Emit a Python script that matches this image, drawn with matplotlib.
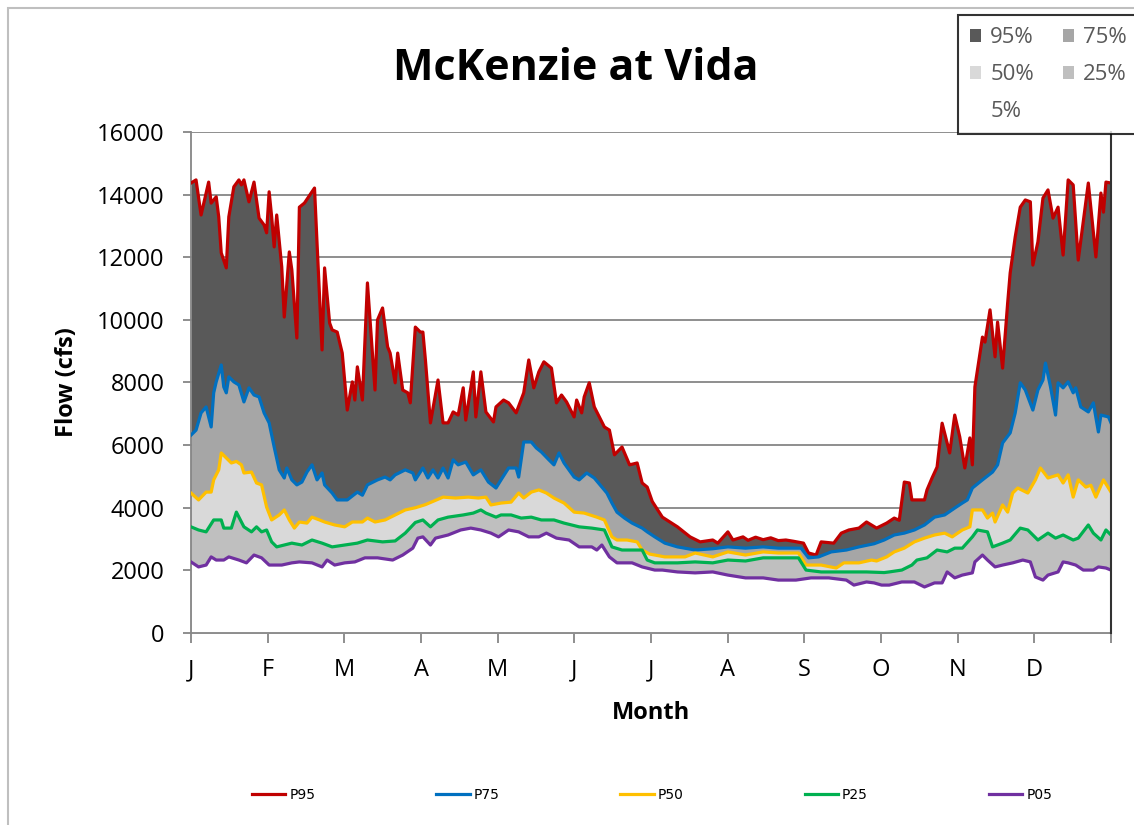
import numpy as np
import matplotlib.pyplot as plt
from matplotlib.patches import Patch, Rectangle
from matplotlib.lines import Line2D

plt.rcParams['font.family'] = ['Open Sans', 'DejaVu Sans']

# day of year (0 = 1 Jan) and flow in cfs
months = ["J", "F", "M", "A", "M", "J", "J", "A", "S", "O", "N", "D"]

p95_day = [0, 2, 4, 7, 8, 10, 11, 12, 14, 15, 17, 19, 20, 21, 23, 25, 27, 29, 30, 31,
           32, 33, 34, 36, 37, 39, 40, 42, 43, 45, 49, 50, 52, 53, 55, 56, 58, 60, 62, 64,
           65, 66, 68, 70, 73, 74, 76, 78, 79, 81, 82, 84, 86, 87, 89, 91, 92, 93, 95, 98,
           100, 102, 104, 106, 108, 109, 112, 113, 115, 117, 120, 121, 124, 126, 129, 132, 134, 136, 138, 140,
           143, 145, 147, 149, 152, 153, 155, 156, 158, 160, 164, 166, 168, 171, 174, 177, 179, 181, 183, 187,
           193, 198, 202, 207, 209, 213, 215, 219, 221, 224, 227, 230, 233, 236, 239, 243, 245, 248, 250, 255,
           258, 261, 265, 268, 272, 276, 279, 281, 283, 285, 286, 289, 291, 292, 294, 296, 298, 301, 303, 305,
           307, 309, 310, 311, 314, 315, 317, 319, 320, 322, 324, 325, 327, 329, 331, 333, 334, 336, 338, 340,
           342, 344, 346, 348, 350, 352, 356, 359, 361, 362, 363, 365]
p95 = [14370, 14470, 13350, 14400, 13730, 13930, 13290, 12140, 11660, 13290, 14250, 14470, 14310, 14470, 13770, 14400, 13250, 13030, 12780, 14090,
       13290, 12330, 13350, 11690, 10090, 12170, 11600, 9420, 13600, 13730, 14210, 12460, 9040, 11660, 9900, 9680, 9610, 8940, 7120, 8020,
       7440, 8500, 7440, 11180, 7760, 10000, 10380, 9140, 8940, 7990, 8940, 7760, 7670, 7350, 9770, 9610, 9610, 8720, 6710, 8080,
       6710, 6710, 7060, 6960, 7830, 6800, 8340, 6900, 8340, 7060, 6740, 7220, 7440, 7350, 7030, 7670, 8720, 7830, 8340, 8660,
       8460, 7350, 7600, 7380, 6900, 7440, 7030, 7540, 7990, 7220, 6580, 6480, 5690, 5940, 5370, 5430, 4790, 4660, 4200, 3700,
       3390, 3070, 2910, 2970, 2870, 3230, 2970, 3070, 2960, 3060, 2980, 3040, 2950, 2970, 2930, 2870, 2555, 2490, 2910, 2870,
       3190, 3290, 3350, 3545, 3350, 3510, 3670, 3600, 4820, 4790, 4250, 4250, 4250, 4570, 4950, 5300, 6700, 5750, 6960, 6260,
       5270, 6230, 5370, 7860, 9450, 9290, 10320, 8820, 9930, 8460, 10540, 11500, 12650, 13600, 13830, 13770, 11750, 12490, 13890, 14150,
       13250, 13600, 12070, 14470, 14310, 11910, 14370, 12010, 14050, 13440, 14400, 14370]

p75_day = [0, 2, 4, 6, 8, 9, 10, 12, 13, 14, 15, 17, 19, 21, 23, 25, 27, 29, 31, 33,
           35, 37, 38, 40, 42, 44, 46, 48, 50, 52, 53, 56, 58, 62, 66, 68, 70, 74, 77, 79,
           81, 85, 88, 89, 92, 94, 96, 98, 100, 102, 104, 106, 109, 112, 115, 118, 121, 123, 126, 129,
           130, 132, 135, 137, 139, 142, 144, 146, 148, 152, 154, 157, 160, 163, 165, 167, 169, 172, 175, 179,
           181, 184, 188, 193, 200, 207, 213, 220, 227, 233, 242, 245, 249, 254, 260, 265, 271, 275, 279, 283,
           287, 291, 295, 299, 303, 306, 308, 310, 314, 318, 320, 322, 325, 327, 329, 331, 334, 336, 338, 339,
           341, 343, 344, 346, 348, 350, 351, 353, 356, 358, 360, 361, 364, 365]
p75 = [6320, 6480, 7030, 7220, 6580, 7670, 8020, 8560, 7860, 7670, 8180, 8020, 7920, 7380, 7830, 7600, 7540, 7030, 6710, 5940,
       5210, 4950, 5270, 4890, 4730, 4820, 5140, 5370, 4890, 5110, 4730, 4470, 4250, 4250, 4500, 4400, 4730, 4890, 4980, 4890,
       5050, 5210, 5110, 4890, 5270, 4950, 5210, 4950, 5270, 4950, 5530, 5370, 5460, 5050, 5210, 4820, 4630, 4890, 5270, 5270,
       4980, 6100, 6100, 5910, 5780, 5530, 5370, 5750, 5430, 4980, 4890, 5110, 4950, 4660, 4470, 4150, 3860, 3670, 3510, 3350,
       3230, 3070, 2870, 2750, 2650, 2690, 2750, 2710, 2750, 2710, 2710, 2400, 2430, 2590, 2650, 2750, 2850, 2970, 3130, 3190,
       3290, 3450, 3700, 3770, 3990, 4150, 4250, 4630, 4890, 5140, 5370, 6070, 6390, 7030, 7990, 7760, 7120, 7760, 8080, 8620,
       7860, 6960, 7990, 7830, 8020, 7670, 7830, 7220, 7060, 7350, 6420, 6960, 6900, 6710]

p50_day = [0, 3, 6, 8, 9, 11, 12, 14, 16, 18, 20, 21, 24, 26, 28, 30, 32, 35, 37, 39,
           41, 43, 46, 48, 51, 53, 57, 61, 64, 68, 70, 73, 77, 81, 85, 89, 93, 100, 105, 110,
           114, 117, 119, 123, 127, 130, 132, 135, 138, 141, 144, 148, 152, 156, 161, 164, 167, 169, 173, 177,
           179, 182, 188, 196, 200, 207, 213, 220, 227, 233, 241, 244, 250, 256, 259, 265, 270, 272, 276, 279,
           283, 287, 291, 295, 299, 302, 306, 309, 310, 314, 316, 318, 319, 322, 324, 326, 328, 332, 335, 337,
           340, 342, 344, 346, 348, 350, 352, 355, 357, 359, 362, 364, 365]
p50 = [4470, 4250, 4500, 4500, 4890, 5210, 5750, 5590, 5430, 5480, 5370, 5110, 5140, 4790, 4730, 4020, 3610, 3770, 3930, 3610,
       3350, 3545, 3510, 3700, 3610, 3545, 3450, 3390, 3545, 3545, 3670, 3545, 3610, 3770, 3930, 4000, 4100, 4340, 4310, 4340,
       4310, 4340, 4090, 4150, 4180, 4470, 4310, 4500, 4570, 4470, 4310, 4150, 3860, 3830, 3700, 3610, 3070, 2970, 2970, 2910,
       2650, 2520, 2430, 2430, 2555, 2430, 2590, 2490, 2590, 2555, 2555, 2170, 2170, 2075, 2240, 2240, 2330, 2300, 2430, 2590,
       2710, 2910, 3030, 3130, 3190, 3070, 3290, 3390, 3930, 3930, 3670, 3830, 3545, 4090, 3860, 4470, 4630, 4470, 4890, 5270,
       4950, 5000, 5050, 4790, 5050, 4340, 4890, 4660, 4720, 4340, 4890, 4630, 4500]

p25_day = [0, 3, 6, 9, 12, 13, 16, 18, 20, 21, 24, 26, 28, 30, 32, 34, 37, 40, 44, 48,
           52, 56, 61, 66, 70, 76, 81, 85, 89, 92, 95, 98, 102, 108, 112, 115, 117, 121, 123, 127,
           131, 135, 139, 144, 148, 154, 159, 164, 167, 171, 176, 179, 181, 184, 193, 200, 207, 213, 220, 227,
           233, 241, 244, 250, 259, 268, 275, 277, 282, 286, 288, 292, 296, 300, 303, 306, 310, 312, 316, 318,
           322, 325, 329, 332, 336, 340, 343, 346, 350, 352, 356, 358, 361, 363, 365]
p25 = [3390, 3290, 3230, 3610, 3610, 3350, 3350, 3860, 3545, 3390, 3230, 3390, 3230, 3290, 2910, 2750, 2810, 2870, 2810, 2970,
       2870, 2750, 2810, 2870, 2970, 2910, 2940, 3190, 3530, 3610, 3390, 3610, 3700, 3770, 3830, 3930, 3830, 3700, 3770, 3770,
       3670, 3700, 3610, 3610, 3510, 3390, 3350, 3290, 2750, 2650, 2650, 2650, 2330, 2240, 2240, 2270, 2240, 2330, 2300, 2400,
       2400, 2400, 2010, 1950, 1950, 1950, 1930, 1950, 2010, 2170, 2330, 2400, 2650, 2590, 2710, 2710, 3070, 3290, 3230, 2750,
       2870, 2970, 3350, 3290, 2970, 3190, 3030, 3130, 2970, 3030, 3450, 3190, 2970, 3290, 3130]

p05_day = [0, 3, 6, 8, 10, 13, 15, 19, 22, 25, 28, 31, 36, 40, 43, 48, 52, 54, 57, 61,
           65, 69, 74, 80, 84, 88, 90, 92, 95, 97, 102, 107, 111, 115, 119, 122, 126, 130, 134, 138,
           141, 145, 150, 154, 159, 161, 163, 166, 169, 175, 179, 184, 187, 193, 200, 207, 213, 220, 227, 233,
           240, 246, 253, 260, 263, 268, 271, 274, 277, 282, 287, 291, 295, 298, 300, 303, 306, 310, 311, 314,
           316, 319, 322, 326, 330, 333, 335, 338, 340, 344, 346, 348, 351, 354, 358, 360, 363, 365]
p05 = [2270, 2110, 2170, 2430, 2330, 2330, 2430, 2330, 2240, 2490, 2400, 2170, 2170, 2240, 2270, 2240, 2110, 2330, 2170, 2240,
       2270, 2400, 2400, 2330, 2490, 2710, 3030, 3070, 2810, 3030, 3130, 3290, 3350, 3290, 3190, 3070, 3290, 3230, 3070, 3070,
       3190, 3030, 2970, 2750, 2750, 2650, 2810, 2430, 2240, 2240, 2110, 2010, 2010, 1950, 1920, 1950, 1850, 1760, 1760, 1690,
       1690, 1760, 1760, 1690, 1530, 1630, 1600, 1530, 1530, 1630, 1630, 1470, 1600, 1600, 1950, 1760, 1850, 1920, 2270, 2490,
       2330, 2110, 2170, 2240, 2330, 2270, 1790, 1690, 1850, 1950, 2270, 2240, 2170, 2010, 2010, 2110, 2075, 2010]

series = [
    (p95_day, p95, "#595959", "#C00000", "95%", "P95"),
    (p75_day, p75, "#A6A6A6", "#0070C0", "75%", "P75"),
    (p50_day, p50, "#D9D9D9", "#FFC000", "50%", "P50"),
    (p25_day, p25, "#BFBFBF", "#00B050", "25%", "P25"),
    (p05_day, p05, "#FFFFFF", "#7030A0", "5%", "P05"),
]

fig = plt.figure(figsize=(11.34, 8.25), dpi=100)
ax = fig.add_axes([191 / 1134, 1 - 633 / 825, 920 / 1134, 501 / 825])

# areas first (each from zero, later ones paint over), then the lines on top
for d, v, fc, lc, alab, llab in series:
    ax.fill_between(d, 0, v, color=fc, lw=0, zorder=2)
for d, v, fc, lc, alab, llab in series:
    ax.plot(d, v, color=lc, lw=2.3, zorder=3)

ax.set_xlim(0, 365)
ax.set_ylim(0, 16000)
ax.set_yticks(np.arange(0, 16001, 2000))
ax.set_xticks(np.linspace(0, 365, 13))
ax.set_xticklabels(months + [""])
ax.set_axisbelow(True)
ax.yaxis.grid(True, color="#868686", lw=1.3)

for s in ["left", "bottom"]:
    ax.spines[s].set_color("#868686")
    ax.spines[s].set_linewidth(1.3)
ax.spines["top"].set_visible(False)
ax.spines["right"].set_color("#333333")
ax.spines["right"].set_linewidth(1.5)
ax.spines["right"].set_zorder(4)

ax.tick_params(axis="y", length=6, width=1.3, color="#868686", pad=13, labelsize=17)
ax.tick_params(axis="x", length=7, width=1.3, color="#868686", pad=11, labelsize=17)

ax.set_xlabel("Month", fontsize=17, fontweight="bold")
ax.xaxis.set_label_coords(0.5, -0.135)
ax.set_ylabel("Flow (cfs)", fontsize=17, fontweight="bold")
ax.yaxis.set_label_coords(-0.122, 0.5)

fig.text(576 / 1134, 1 - 80 / 825, "McKenzie at Vida", ha="center", va="baseline",
         fontsize=31, fontweight="bold")

# legend for the bands, top right, row by row
patches = {alab: Patch(facecolor=fc, edgecolor="none", label=alab)
           for d, v, fc, lc, alab, llab in series}
order = ["95%", "50%", "5%", "75%", "25%"]
leg1 = fig.legend([patches[k] for k in order], order, loc="upper left",
                  bbox_to_anchor=(958 / 1134, 1 - 15 / 825), ncol=2, fontsize=16,
                  frameon=True, fancybox=False, edgecolor="black", labelcolor="#595959",
                  handlelength=0.5, handleheight=0.5, handletextpad=0.4,
                  columnspacing=1.3, labelspacing=0.72, borderpad=0.55, borderaxespad=0)
leg1.get_frame().set_linewidth(1.5)

# legend for the lines, bottom
lines = [Line2D([], [], color=lc, lw=2.3) for d, v, fc, lc, alab, llab in series]
fig.legend(lines, [s[5] for s in series], loc="center",
           bbox_to_anchor=(652 / 1134, 1 - 795 / 825), ncol=5, frameon=False,
           prop={"family": ["Liberation Sans Narrow", "DejaVu Sans"], "size": 10},
           handlelength=2.4, handletextpad=0.3, columnspacing=8.7)

# chart area border
fig.add_artist(Rectangle((8 / 1134, -0.1), 1.2, 1 - 8 / 825 + 0.1, transform=fig.transFigure,
                         fill=False, edgecolor="#BFBFBF", lw=1.5))

fig.savefig("out.png", dpi=100)
